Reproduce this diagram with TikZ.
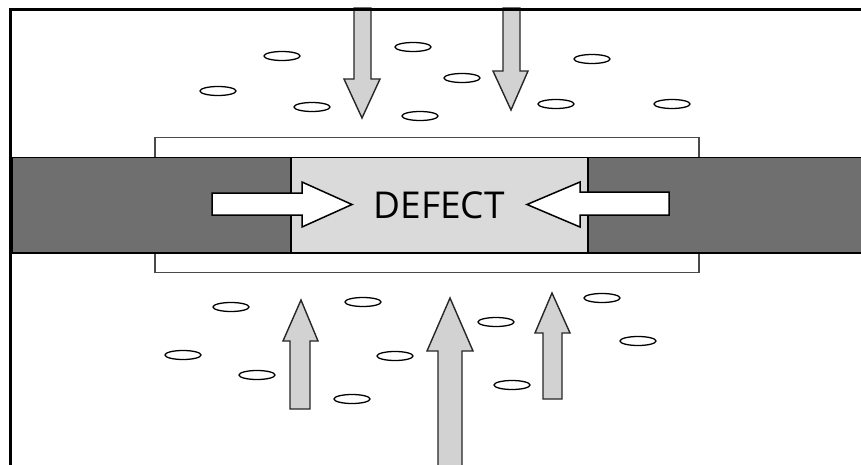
\documentclass[tikz,border=0pt]{standalone}
\usepackage{fontspec}
\setmainfont{Open Sans}
\usetikzlibrary{shapes.geometric}
\begin{document}
\begin{tikzpicture}[x=1pt,y=-1pt,
  barpart/.style={draw=black,line width=1.6pt,fill=bargrey},
  defectpart/.style={draw=black,line width=1.6pt,fill=defectgrey},
  sleeve/.style={draw=sleeveline,line width=1.4pt,fill=white},
  pushtip/.style={draw=black,line width=1.5pt,fill=white,line join=miter},
  flowtip/.style={draw=black!85,line width=1.4pt,fill=arrowgrey,line join=miter},
  pore/.style={draw=black,line width=1.3pt,fill=white,ellipse,minimum width=36pt,minimum height=9pt,inner sep=0pt},
  framel/.style={draw=black,line width=3pt}]
\definecolor{bargrey}{HTML}{6F6F6F}
\definecolor{defectgrey}{HTML}{DADADA}
\definecolor{arrowgrey}{HTML}{D2D2D2}
\definecolor{sleeveline}{HTML}{4A4A4A}
\useasboundingbox (0,0) rectangle (861,465);
\fill[white] (0,0) rectangle (861,465);

% outer sleeve around the joint
\draw[sleeve] (155,137.5) rectangle (699,272.5);

% the two parts and the defect between them
\draw[barpart] (12,157.5) rectangle (291,253);
\draw[defectpart] (291,157.5) rectangle (588,253);
\draw[barpart] (588,157.5) rectangle (866,253);

% pressure arrows from both sides
\draw[pushtip] (212,193) -- (302,193) -- (302,182) -- (352,204.5) -- (302,227) -- (302,215) -- (212,215) -- cycle;
\draw[pushtip] (669,192) -- (580,192) -- (580,182) -- (527,204.5) -- (580,227) -- (580,215) -- (669,215) -- cycle;
\node[font=\fontsize{37}{40}\selectfont,inner sep=0pt] (defect) at (439,205) {DEFECT};

% bubbles above the joint
\foreach \p/\xy in {a1/{(282,56)},a2/{(218,91)},a3/{(312,107)},a4/{(413,47)},a5/{(420,116)},
                    a6/{(462,78)},a7/{(592,59)},a8/{(556,104)},a9/{(672,104)}}
  \node[pore] (\p) at \xy {};
% bubbles below the joint
\foreach \p/\xy in {b1/{(231,307)},b2/{(363,302)},b3/{(496,322)},b4/{(602,298)},b5/{(183,355)},
                    b6/{(395,356)},b7/{(638,341)},b8/{(257,375)},b9/{(352,399)},b10/{(512,385)}}
  \node[pore] (\p) at \xy {};

% flow arrows from above
\draw[flowtip] (354,8) -- (354,79) -- (344,79) -- (362,118) -- (380,79) -- (371,79) -- (371,8) -- cycle;
\draw[flowtip] (503,8) -- (503,71) -- (493,71) -- (511,110) -- (528,71) -- (520,71) -- (520,8) -- cycle;
% flow arrows from below
\draw[flowtip] (290,409) -- (290,341) -- (283,341) -- (301,300) -- (318,341) -- (310,341) -- (310,409) -- cycle;
\draw[flowtip] (438,470) -- (438,351) -- (427,351) -- (450,298) -- (473,351) -- (462,351) -- (462,470) -- cycle;
\draw[flowtip] (543,399) -- (543,333) -- (535,333) -- (552,293) -- (570,333) -- (562,333) -- (562,399) -- cycle;

% frame
\draw[framel] (861,10) -- (10,10) -- (10,466);
\end{tikzpicture}
\end{document}
